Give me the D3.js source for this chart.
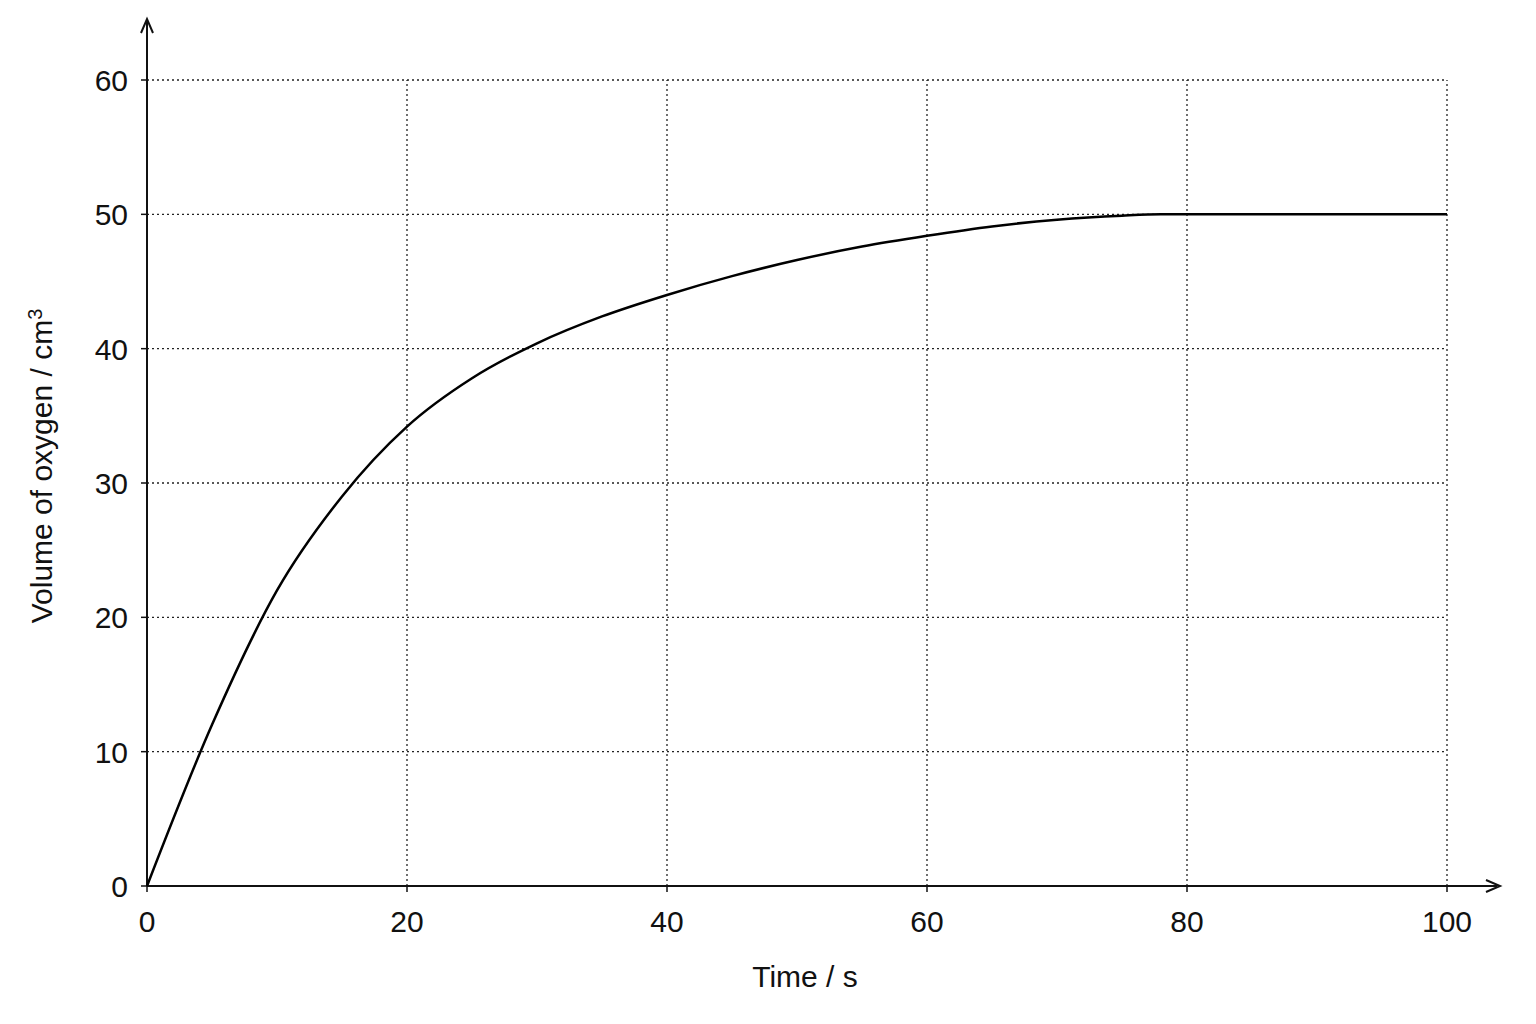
<!DOCTYPE html>
<html><head><meta charset="utf-8">
<script src="https://cdn.jsdelivr.net/npm/d3@7"></script>
<style>body{margin:0;background:#fff}text{font-family:"Liberation Sans",Arial,sans-serif;fill:#111}</style>
</head><body><svg id="c" width="1536" height="1024"></svg>
<script>
const times=[0,5,10,15,20,25,30,35,40,45,50,55,60,65,70,75,78,80,90,100];
const volumes=[0,12,22,29,34.2,37.8,40.4,42.4,44,45.4,46.6,47.6,48.4,49.1,49.6,49.9,50,50,50,50];
const xTicks=[0,20,40,60,80,100];
const yTicks=[0,10,20,30,40,50,60];
const svg=d3.select("#c");
const x=d3.scaleLinear().domain([0,100]).range([147,1447]);
const y=d3.scaleLinear().domain([0,60]).range([886,80]);
const g=svg.append("g");
xTicks.filter(d=>d>0).forEach(d=>g.append("line").attr("x1",x(d)).attr("x2",x(d)).attr("y1",y(0)).attr("y2",y(60)).attr("stroke","#222").attr("stroke-width",1.3).attr("stroke-dasharray","2,3"));
yTicks.filter(d=>d>0).forEach(d=>g.append("line").attr("x1",x(0)).attr("x2",x(100)).attr("y1",y(d)).attr("y2",y(d)).attr("stroke","#222").attr("stroke-width",1.3).attr("stroke-dasharray","2,3"));
svg.append("line").attr("x1",x(0)).attr("x2",1497).attr("y1",y(0)).attr("y2",y(0)).attr("stroke","#111").attr("stroke-width",2);
svg.append("line").attr("x1",x(0)).attr("x2",x(0)).attr("y1",y(0)).attr("y2",22).attr("stroke","#111").attr("stroke-width",2);
svg.append("path").attr("d",`M1486,880 L1500,886 L1486,892`).attr("fill","none").attr("stroke","#111").attr("stroke-width",2);
svg.append("path").attr("d",`M141,33 L147,19 L153,33`).attr("fill","none").attr("stroke","#111").attr("stroke-width",2);
xTicks.forEach(d=>{svg.append("line").attr("x1",x(d)).attr("x2",x(d)).attr("y1",y(0)).attr("y2",y(0)+6).attr("stroke","#111").attr("stroke-width",1.5);
 svg.append("text").attr("x",x(d)).attr("y",932).attr("text-anchor","middle").attr("font-size",30).text(d);});
yTicks.forEach(d=>{svg.append("line").attr("x1",x(0)-6).attr("x2",x(0)).attr("y1",y(d)).attr("y2",y(d)).attr("stroke","#111").attr("stroke-width",1.5);
 svg.append("text").attr("x",128).attr("y",y(d)+11).attr("text-anchor","end").attr("font-size",30).text(d);});
svg.append("text").attr("x",805).attr("y",987).attr("text-anchor","middle").attr("font-size",30).text("Time / s");
const yl=svg.append("text").attr("transform","translate(52,466) rotate(-90)").attr("text-anchor","middle").attr("font-size",30);
yl.append("tspan").text("Volume of oxygen / cm");
yl.append("tspan").attr("dy",-10).attr("font-size",20).text("3");
svg.append("path").datum(times.map((t,i)=>[t,volumes[i]])).attr("d",d3.line().x(d=>x(d[0])).y(d=>y(d[1])).curve(d3.curveMonotoneX)).attr("fill","none").attr("stroke","#000").attr("stroke-width",2.5);
</script></body></html>
